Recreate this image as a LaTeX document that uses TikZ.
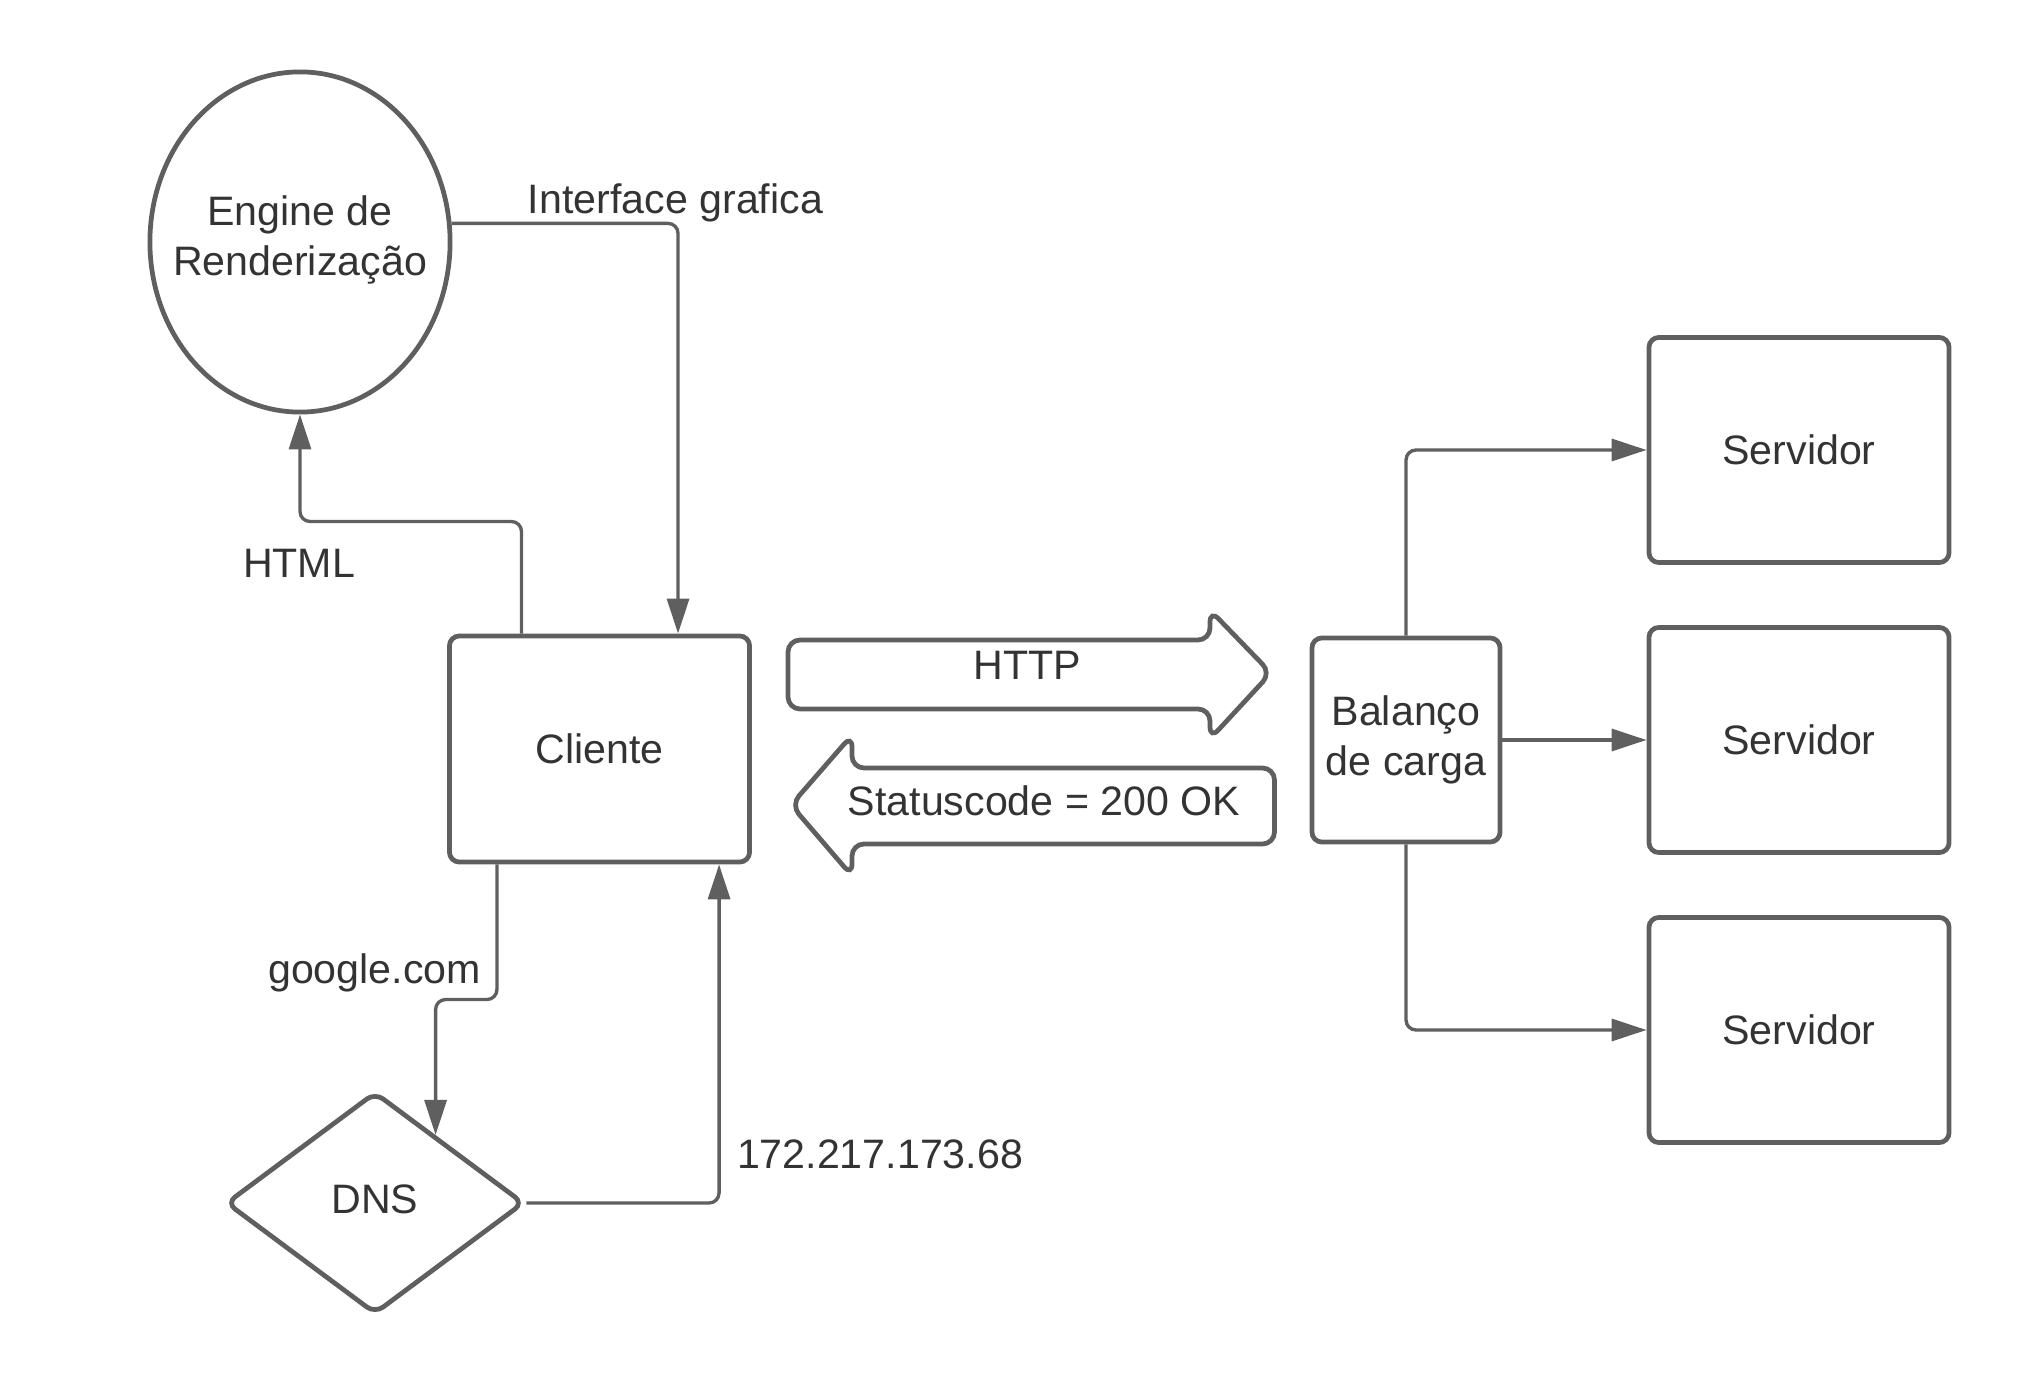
\documentclass[tikz,border=0pt]{standalone}
\usepackage{fontspec}
\setmainfont{Liberation Sans}
\usetikzlibrary{shapes.geometric,arrows.meta,calc}
\definecolor{linegray}{HTML}{5F5F5F}
\definecolor{textgray}{HTML}{333333}

\begin{document}
\begin{tikzpicture}[x=0.01cm,y=-0.01cm]
\tikzstyle{every node}+=[text=textgray,font=\fontsize{11.7}{14.2}\selectfont,align=center]
\tikzstyle{box}=[draw=linegray,line width=1.35pt,rounded corners=0.1cm]
\tikzstyle{conn}=[draw=linegray,line width=0.95pt,rounded corners=0.1cm,-{Triangle[length=3.5mm,width=2.2mm]}]
\tikzstyle{blockarrow}=[draw=linegray,line width=1.35pt,rounded corners=0.12cm]
\useasboundingbox (0,0) rectangle (2025,1389);
\node [box,ellipse,rounded corners=0pt,minimum width=3cm,minimum height=3.4cm,inner sep=0pt,label={[align=center,yshift=0.02cm]center:Engine de\\Renderização}] (eng) at (300,242) {};
\node [box,minimum width=3cm,minimum height=2.26cm] (cli) at (599.5,749) {Cliente};
\node [box,diamond,minimum width=2.98cm,minimum height=2.22cm,inner sep=0pt,label={[yshift=0.04cm]center:DNS}] (dns) at (375,1203) {};
\node [box,minimum width=1.88cm,minimum height=2.04cm] (bal) at (1406,740) {Balanço\\de carga};
\node [box,minimum width=3cm,minimum height=2.25cm] (s1) at (1799,450) {Servidor};
\node [box,minimum width=3cm,minimum height=2.25cm] (s2) at (1799,740) {Servidor};
\node [box,minimum width=3cm,minimum height=2.25cm] (s3) at (1799,1030) {Servidor};
\coordinate (dnsin) at ($(dns.north)!0.4!(dns.east)$);
\draw [conn] (eng.7) -| ([xshift=0.785cm]cli.north);
\node (liface) at (675.5,203) {Interface grafica};
\draw [conn] ([xshift=-0.78cm]cli.north) -- ++(0,1.12cm) -| (eng.south);
\node (lhtml) at (299,563) {HTML};
\draw [conn] ([xshift=-1.025cm]cli.south) -- ++(0,-1.35cm) -| (dnsin);
\node (lgoogle) at (374.6,973) {google.com};
\draw [conn] (dns.east) -| ([xshift=1.195cm]cli.south);
\node (lip) at (880,1154) {172.217.173.68};
\draw [blockarrow] (788,640) -- (1210,640) -- (1210,610) -- (1271,673) -- (1210,739) -- (1210,709) -- (788,709) -- cycle;
\node (lhttp) at (1027,665) {HTTP};
\draw [blockarrow] (1274.5,768) -- (852,768) -- (852,735) -- (791,805) -- (852,876) -- (852,844) -- (1274.5,844) -- cycle;
\node (lstatus) at (1044,801) {Statuscode = 200 OK};
\draw [conn] (bal.north) |- (s1.west);
\draw [conn] (bal.east) -- (s2.west);
\draw [conn] (bal.south) |- (s3.west);
\end{tikzpicture}
\end{document}
